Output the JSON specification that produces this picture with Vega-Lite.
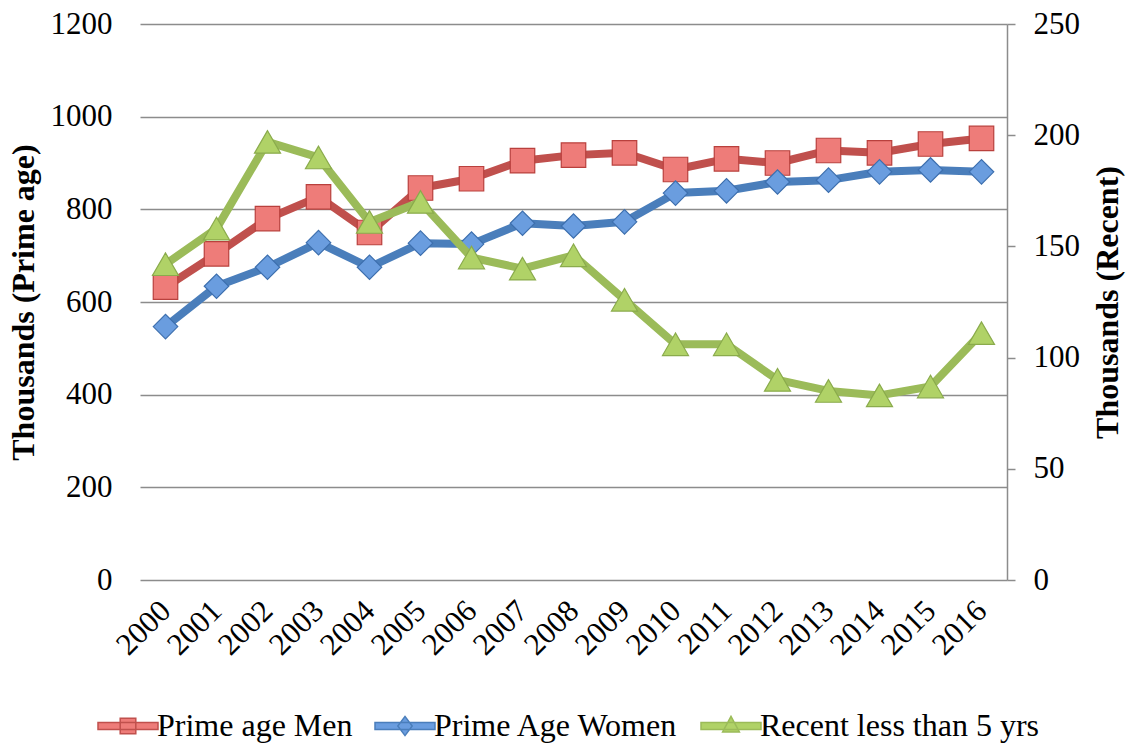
{
  "$schema": "https://vega.github.io/schema/vega-lite/v6.json",
  "width": 867,
  "height": 556,
  "autosize": "none",
  "padding": {"left": 140, "top": 24, "right": 120, "bottom": 165},
  "background": "white",
  "config": {
    "font": "Liberation Serif",
    "view": {"stroke": null},
    "axis": {"labelFont": "Liberation Serif", "titleFont": "Liberation Serif", "labelColor": "black", "titleColor": "black"},
    "legend": {"labelFont": "Liberation Serif"}
  },
  "data": {
    "values": [
      {"year": "2000", "series": "Prime age Men", "value": 632},
      {"year": "2001", "series": "Prime age Men", "value": 704},
      {"year": "2002", "series": "Prime age Men", "value": 780},
      {"year": "2003", "series": "Prime age Men", "value": 827},
      {"year": "2004", "series": "Prime age Men", "value": 750},
      {"year": "2005", "series": "Prime age Men", "value": 846},
      {"year": "2006", "series": "Prime age Men", "value": 866},
      {"year": "2007", "series": "Prime age Men", "value": 905},
      {"year": "2008", "series": "Prime age Men", "value": 917},
      {"year": "2009", "series": "Prime age Men", "value": 922},
      {"year": "2010", "series": "Prime age Men", "value": 886},
      {"year": "2011", "series": "Prime age Men", "value": 909},
      {"year": "2012", "series": "Prime age Men", "value": 900},
      {"year": "2013", "series": "Prime age Men", "value": 927},
      {"year": "2014", "series": "Prime age Men", "value": 922},
      {"year": "2015", "series": "Prime age Men", "value": 941},
      {"year": "2016", "series": "Prime age Men", "value": 953},
      {"year": "2000", "series": "Prime Age Women", "value": 547},
      {"year": "2001", "series": "Prime Age Women", "value": 634},
      {"year": "2002", "series": "Prime Age Women", "value": 675},
      {"year": "2003", "series": "Prime Age Women", "value": 728},
      {"year": "2004", "series": "Prime Age Women", "value": 675},
      {"year": "2005", "series": "Prime Age Women", "value": 727},
      {"year": "2006", "series": "Prime Age Women", "value": 725},
      {"year": "2007", "series": "Prime Age Women", "value": 770},
      {"year": "2008", "series": "Prime Age Women", "value": 764},
      {"year": "2009", "series": "Prime Age Women", "value": 773},
      {"year": "2010", "series": "Prime Age Women", "value": 835},
      {"year": "2011", "series": "Prime Age Women", "value": 840},
      {"year": "2012", "series": "Prime Age Women", "value": 859},
      {"year": "2013", "series": "Prime Age Women", "value": 863},
      {"year": "2014", "series": "Prime Age Women", "value": 881},
      {"year": "2015", "series": "Prime Age Women", "value": 885},
      {"year": "2016", "series": "Prime Age Women", "value": 881},
      {"year": "2000", "series": "Recent less than 5 yrs", "value": 142},
      {"year": "2001", "series": "Recent less than 5 yrs", "value": 158},
      {"year": "2002", "series": "Recent less than 5 yrs", "value": 197},
      {"year": "2003", "series": "Recent less than 5 yrs", "value": 190},
      {"year": "2004", "series": "Recent less than 5 yrs", "value": 161},
      {"year": "2005", "series": "Recent less than 5 yrs", "value": 170},
      {"year": "2006", "series": "Recent less than 5 yrs", "value": 145},
      {"year": "2007", "series": "Recent less than 5 yrs", "value": 140},
      {"year": "2008", "series": "Recent less than 5 yrs", "value": 146},
      {"year": "2009", "series": "Recent less than 5 yrs", "value": 126},
      {"year": "2010", "series": "Recent less than 5 yrs", "value": 106},
      {"year": "2011", "series": "Recent less than 5 yrs", "value": 106},
      {"year": "2012", "series": "Recent less than 5 yrs", "value": 90},
      {"year": "2013", "series": "Recent less than 5 yrs", "value": 85},
      {"year": "2014", "series": "Recent less than 5 yrs", "value": 83},
      {"year": "2015", "series": "Recent less than 5 yrs", "value": 87},
      {"year": "2016", "series": "Recent less than 5 yrs", "value": 111}
    ]
  },
  "encoding": {
    "x": {
      "field": "year",
      "type": "ordinal",
      "scale": {"paddingInner": 0, "paddingOuter": 0, "align": 0.5},
      "axis": {
        "title": null,
        "domain": false,
        "ticks": false,
        "labelAngle": -45,
        "labelAlign": "right",
        "labelBaseline": "middle",
        "labelPadding": 26,
        "labelFont": "Liberation Serif",
        "labelFontSize": 31
      }
    }
  },
  "layer": [
    {
      "transform": [{"filter": "datum.series !== 'Recent less than 5 yrs'"}],
      "encoding": {
        "y": {
          "field": "value",
          "type": "quantitative",
          "scale": {"domain": [0, 1200]},
          "axis": {
            "title": "Thousands (Prime age)",
            "titleFont": "Liberation Serif",
            "titleFontSize": 32,
            "titleFontWeight": "bold",
            "titlePadding": 10,
            "values": [0, 200, 400, 600, 800, 1000, 1200],
            "format": "d",
            "labelFont": "Liberation Serif",
            "labelFontSize": 31,
            "labelPadding": 28,
            "domain": false,
            "ticks": false,
            "grid": true,
            "gridColor": "#8c8c8c",
            "gridWidth": 1.5
          }
        }
      },
      "layer": [
        {
          "mark": {"type": "line", "strokeWidth": 8, "strokeJoin": "round"},
          "encoding": {
            "color": {
              "field": "series",
              "type": "nominal",
              "scale": {
                "domain": ["Prime age Men", "Prime Age Women", "Recent less than 5 yrs"],
                "range": ["#c0504d", "#4a7ebb", "#9bbb59"]
              },
              "legend": {
                "orient": "none",
                "direction": "horizontal",
                "legendX": -28,
                "legendY": 686,
                "title": null,
                "labelFont": "Liberation Serif",
                "labelFontSize": 32,
                "labelColor": "black",
                "labelLimit": 0,
                "labelOffset": 13,
                "columnPadding": 19,
                "symbolSize": 576,
                "encode": {
                  "symbols": {
                    "update": {
                      "shape": {"signal": "datum.value === 'Prime age Men' ? 'M-2.5,-0.3H2.5V0.3H-2.5Z M-0.65,-0.65H0.65V0.65H-0.65Z' : datum.value === 'Prime Age Women' ? 'M-2.5,-0.3H2.5V0.3H-2.5Z M0,-0.8L0.6,0L0,0.8L-0.6,0Z' : 'M-2.5,-0.3H2.5V0.3H-2.5Z M0,-0.8L0.7,0.5H-0.7Z'"},
                      "fill": {"scale": "color", "field": "value"},
                      "stroke": {"value": "transparent"},
                      "opacity": {"value": 1}
                    }
                  }
                }
              }
            }
          }
        },
        {
          "mark": {"type": "point", "filled": true, "size": 600, "strokeWidth": 1.2, "opacity": 1},
          "encoding": {
            "shape": {
              "field": "series",
              "type": "nominal",
              "scale": {"domain": ["Prime age Men", "Prime Age Women"], "range": ["square", "diamond"]},
              "legend": null
            },
            "fill": {
              "field": "series",
              "type": "nominal",
              "scale": {"domain": ["Prime age Men", "Prime Age Women", "Recent less than 5 yrs"], "range": ["#ee7c79", "#6a9ddf", "#b0d267"]},
              "legend": null
            },
            "stroke": {
              "field": "series",
              "type": "nominal",
              "scale": {"domain": ["Prime age Men", "Prime Age Women", "Recent less than 5 yrs"], "range": ["#b9403d", "#3d6fae", "#8aab4c"]},
              "legend": null
            }
          }
        }
      ]
    },
    {
      "transform": [{"filter": "datum.series === 'Recent less than 5 yrs'"}],
      "encoding": {
        "y": {
          "field": "value",
          "type": "quantitative",
          "scale": {"domain": [0, 250]},
          "axis": {
            "orient": "right",
            "title": "Thousands (Recent)",
            "titleFont": "Liberation Serif",
            "titleFontSize": 32,
            "titleFontWeight": "bold",
            "titleAngle": -90,
            "titlePadding": 45,
            "values": [0, 50, 100, 150, 200, 250],
            "format": "d",
            "labelFont": "Liberation Serif",
            "labelFontSize": 31,
            "labelPadding": 18,
            "domain": true,
            "domainColor": "#8c8c8c",
            "domainWidth": 1.5,
            "ticks": true,
            "tickColor": "#8c8c8c",
            "tickWidth": 1.5,
            "tickSize": 8,
            "grid": false
          }
        }
      },
      "layer": [
        {
          "mark": {"type": "line", "strokeWidth": 8, "strokeJoin": "round"},
          "encoding": {
            "color": {"field": "series", "type": "nominal"}
          }
        },
        {
          "mark": {"type": "point", "filled": true, "shape": "triangle-up", "size": 680, "strokeWidth": 1.2, "opacity": 1},
          "encoding": {
            "fill": {"field": "series", "type": "nominal", "legend": null},
            "stroke": {"field": "series", "type": "nominal", "legend": null}
          }
        }
      ]
    }
  ],
  "resolve": {"scale": {"y": "independent"}}
}
